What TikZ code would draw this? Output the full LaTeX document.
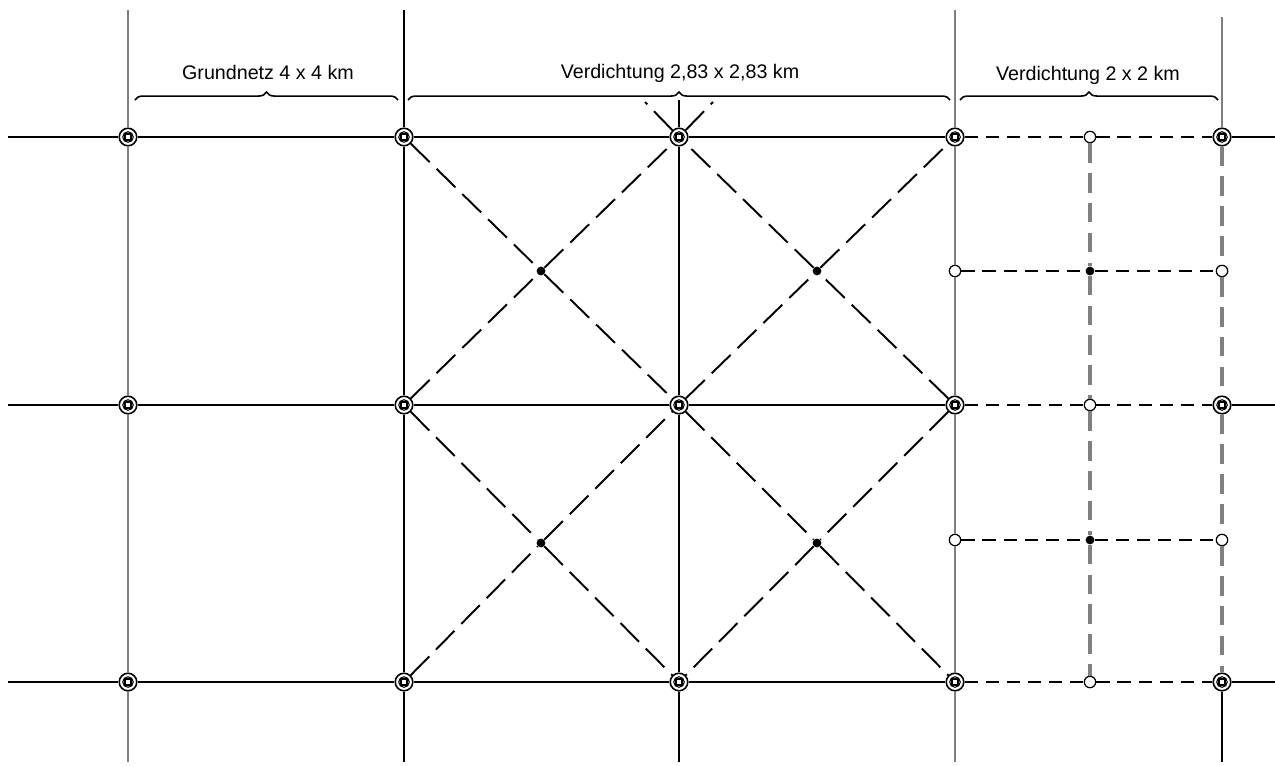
\documentclass[tikz,border=0pt]{standalone}
\usepackage{fontspec}
\setmainfont{Liberation Sans}
\usetikzlibrary{decorations.pathreplacing}
\tikzset{
  gridpt/.style={circle, draw=black, line width=0.9pt, fill=white, minimum size=10pt, inner sep=0pt,
    path picture={
      \draw[line width=0.6pt] (path picture bounding box.center) circle (3pt);
      \draw[line width=0.6pt] ([shift={(-1.7pt,-1.7pt)}]path picture bounding box.center) rectangle ([shift={(1.7pt,1.7pt)}]path picture bounding box.center);
    }},
  opnpt/.style={circle, draw=black, line width=0.7pt, fill=white, minimum size=6.5pt, inner sep=0pt},
  fillpt/.style={circle, fill=black, minimum size=5pt, inner sep=0pt},
  solidline/.style={line width=1.1pt, black},
  grayline/.style={line width=1.0pt, black!50},
  graydash/.style={line width=1.8pt, black!50, dash pattern=on 11pt off 6pt},
  hdash/.style={line width=1.1pt, black, dash pattern=on 7.5pt off 4.5pt},
  diag/.style={line width=1.1pt, black, dash pattern=on 15pt off 5.5pt},
  bracestyle/.style={line width=0.9pt, decorate, decoration={brace, amplitude=4.5pt}},
  lbl/.style={font=\fontsize{11.2}{13}\selectfont, inner sep=0pt}
}
\begin{document}
\begin{tikzpicture}[x=0.02cm, y=-0.02cm]
\useasboundingbox (0,0) rectangle (1275,765);
% grid nodes
\foreach \n/\x in {a/128, b/404, c/679, d/955, e/1222}{
  \foreach \r/\y in {1/137, 2/405, 3/682}{
    \node[gridpt] (\n\r) at (\x,\y) {};
  }
}
% filled points
\node[fillpt] (m1) at (541,271) {};
\node[fillpt] (m2) at (817,271) {};
\node[fillpt] (m3) at (541,543) {};
\node[fillpt] (m4) at (817,543) {};
\node[fillpt] (p2) at (1090,271) {};
\node[fillpt] (p4) at (1090,540) {};
% open points
\node[opnpt] (p1) at (1090,137) {};
\node[opnpt] (p3) at (1090,405) {};
\node[opnpt] (p5) at (1090,682) {};
\node[opnpt] (q1) at (955,271) {};
\node[opnpt] (q2) at (1222,271) {};
\node[opnpt] (q3) at (955,540) {};
\node[opnpt] (q4) at (1222,540) {};
% free ends
\coordinate (L1) at (8,137);  \coordinate (R1) at (1275,137);
\coordinate (L2) at (8,405);  \coordinate (R2) at (1275,405);
\coordinate (L3) at (8,682);  \coordinate (R3) at (1275,682);
\coordinate (aT) at (128,10); \coordinate (aB) at (128,762);
\coordinate (bT) at (404,10); \coordinate (bB) at (404,762);
\coordinate (cT) at (679,100); \coordinate (cB) at (679,762);
\coordinate (dT) at (955,10); \coordinate (dB) at (955,762);
\coordinate (eT) at (1222,17); \coordinate (eB) at (1222,762);
\coordinate (xL) at (645,102); \coordinate (xR) at (713,102);
% horizontal lines
\foreach \r in {1,2,3}{
  \draw[solidline] (L\r) -- (a\r) -- (b\r) -- (c\r) -- (d\r);
  \draw[solidline] (e\r) -- (R\r);
}
\draw[hdash] (d1) -- (p1) -- (e1);
\draw[hdash] (d2) -- (p3) -- (e2);
\draw[hdash] (d3) -- (p5) -- (e3);
\draw[hdash] (q1) -- (p2) -- (q2);
\draw[hdash] (q3) -- (p4) -- (q4);
% vertical lines
\draw[grayline] (aT) -- (a1) -- (a2) -- (a3) -- (aB);
\draw[solidline] (bT) -- (b1) -- (b2) -- (b3) -- (bB);
\draw[solidline] (cT) -- (c1) -- (c2) -- (c3) -- (cB);
\draw[grayline] (dT) -- (d1) -- (q1) -- (d2) -- (q3) -- (d3) -- (dB);
\draw[grayline] (eT) -- (e1);
\draw[graydash] (e1) -- (q2) -- (e2) -- (q4) -- (e3);
\draw[solidline] (e3) -- (eB);
\draw[graydash] (p1) -- (p2) -- (p3) -- (p4) -- (p5);
% diagonals
\draw[diag] (b1) -- (m1) -- (c2) -- (m4) -- (d3);
\draw[diag] (b3) -- (m3) -- (c2) -- (m2) -- (d1);
\draw[diag] (b2) -- (m1) -- (c1) -- (xR);
\draw[diag] (d2) -- (m2) -- (c1) -- (xL);
\draw[diag] (b2) -- (m3) -- (c3);
\draw[diag] (d2) -- (m4) -- (c3);
% braces
\coordinate (br1a) at (135,100); \coordinate (br1b) at (398,100);
\coordinate (br2a) at (408,100); \coordinate (br2b) at (950,100);
\coordinate (br3a) at (960,100); \coordinate (br3b) at (1218,100);
\draw[bracestyle] (br1a) -- (br1b);
\draw[bracestyle] (br2a) -- (br2b);
\draw[bracestyle] (br3a) -- (br3b);
\node[lbl] (t1) at (268,72) {Grundnetz 4 x 4 km};
\node[lbl] (t2) at (680,73) {Verdichtung 2,83 x 2,83 km};
\node[lbl] (t3) at (1088,75) {Verdichtung 2 x 2 km};
\end{tikzpicture}
\end{document}
